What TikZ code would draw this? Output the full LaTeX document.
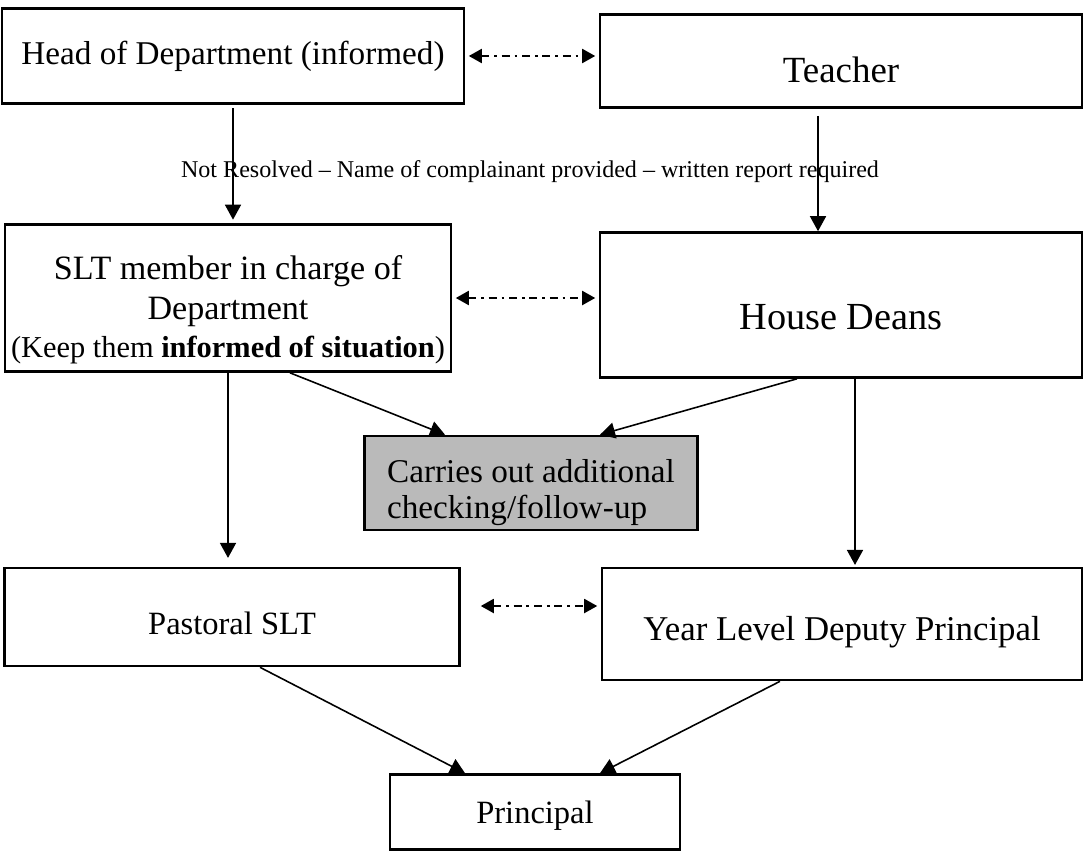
\documentclass[tikz,border=0pt]{standalone}
\usepackage{fontspec}
\setmainfont{Liberation Serif}
\usetikzlibrary{arrows.meta,positioning,calc}

\newcommand{\lowered}[2]{\raisebox{-#1}[\height][\depth]{#2}}

\begin{document}
\begin{tikzpicture}[x=0.02cm, y=-0.02cm,
    every node/.style={font=\fontsize{18.5}{22.5}\selectfont},
    box/.style={draw, line width=1.5pt, inner sep=0pt},
    link/.style={line width=0.9pt, -{Triangle[length=3mm,width=3.2mm]}},
    both/.style={line width=1.1pt, dash pattern=on 4.5pt off 2.8pt on 1.5pt off 2.8pt,
        {Triangle[length=2.6mm,width=2.8mm]}-{Triangle[length=2.6mm,width=2.8mm]}}]
        \definecolor{scangray}{RGB}{186,186,186}
        \useasboundingbox (0,0) rectangle (1084,855);

        % Top row
        \node[box, minimum width=9.24cm, minimum height=1.9cm, font=\fontsize{18.9}{22}\selectfont] (hod) at (233,56) {Head of Department (informed)};
        \node[box, minimum width=9.64cm, minimum height=1.86cm, font=\fontsize{21}{24}\selectfont] (teacher) at (841,61) {\lowered{5pt}{Teacher}};

        % Second row
        \node[box, minimum width=8.92cm, minimum height=2.94cm, align=center, font=\fontsize{19.4}{22.8}\selectfont] (slt) at (228,298)
            {\rule{0pt}{27pt}SLT member in charge of\\Department\\[-1pt]
             {\fontsize{17.3}{19}\selectfont (Keep them \textbf{informed of situation})}};
        \node[box, minimum width=9.64cm, minimum height=2.9cm, font=\fontsize{21.8}{25}\selectfont] (deans) at (841,305) {\lowered{7pt}{House Deans}};

        % Follow-up box
        \node[box, fill=scangray, minimum width=6.66cm, minimum height=1.88cm, align=left,
            font=\fontsize{18.9}{20.5}\selectfont] (check) at (531,483)
            {\rule{0pt}{24pt}Carries out additional\\checking/follow-up};

        % Third row
        \node[box, minimum width=9.1cm, minimum height=1.96cm] (pastoral) at (232,617) {\lowered{3.5pt}{Pastoral SLT}};
        \node[box, minimum width=9.6cm, minimum height=2.24cm, font=\fontsize{19.8}{23}\selectfont] (ydp) at (842,624) {\lowered{4.5pt}{Year Level Deputy Principal}};

        % Principal
        \node[box, minimum width=5.8cm, minimum height=1.5cm] (principal) at (535,812) {\lowered{2pt}{Principal}};

        % Note between first and second rows
        \node[font=\fontsize{13.7}{16}\selectfont] (note) at (530,172)
            {Not Resolved -- Name of complainant provided -- written report required};

        % Two-way links
        \draw[both] ([xshift=2pt]hod.east) -- ([xshift=-2pt]hod.east -| teacher.west);
        \draw[both] ([xshift=2pt]slt.east) -- ([xshift=-2pt]slt.east -| deans.west);
        \draw[both] ([shift={(0.4cm,0.22cm)}]pastoral.east) -- ([shift={(-2pt,0.22cm)}]pastoral.east -| ydp.west);

        % Escalation arrows
        \draw[link, shorten <=2pt, shorten >=2pt] (hod.south) -- (hod.south |- slt.north);
        \draw[link, shorten <=4pt] ([xshift=-0.46cm]teacher.south) -- ([xshift=-0.46cm]deans.north);
        \draw[link] ([xshift=1.24cm]slt.south) -- ([xshift=-1.72cm]check.north);
        \draw[link] ([xshift=-0.88cm]deans.south) -- ([xshift=1.38cm]check.north);
        \draw[link, shorten >=5pt] (slt.south) -- (slt.south |- pastoral.north);
        \draw[link, shorten >=1pt] ([xshift=0.28cm]deans.south) -- ([xshift=0.28cm]deans.south |- ydp.north);
        \draw[link] ([xshift=0.56cm]pastoral.south) -- ([xshift=-1.4cm]principal.north);
        \draw[link] ([xshift=-1.24cm]ydp.south) -- ([xshift=1.3cm]principal.north);
\end{tikzpicture}
\end{document}
